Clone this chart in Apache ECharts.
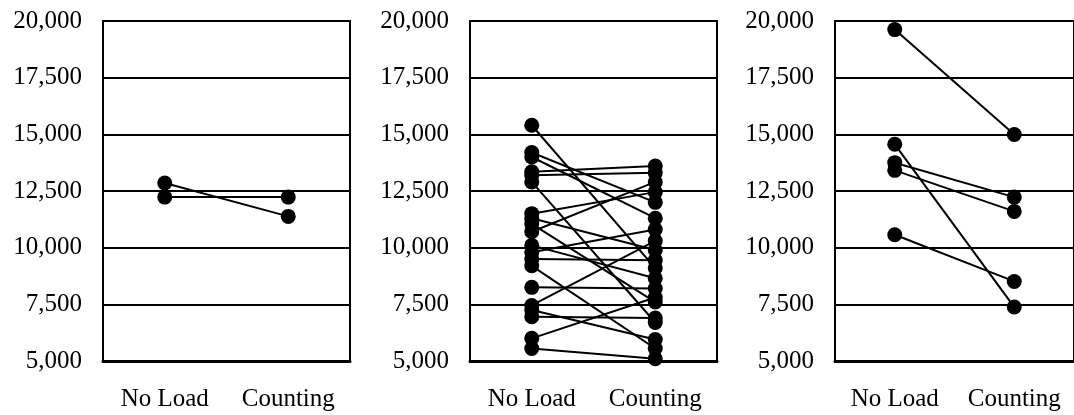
<!DOCTYPE html>
<html>
<head>
<meta charset="utf-8">
<script src="https://cdn.jsdelivr.net/npm/echarts@6/dist/echarts.min.js"></script>
<style>
  html, body { margin: 0; padding: 0; background: #fff; }
  #chart { width: 1074px; height: 415px; }
</style>
</head>
<body>
<div id="chart"></div>
<script>
var categories = ['No Load', 'Counting'];
var yTicks = [5000, 7500, 10000, 12500, 15000, 17500, 20000];

// panel 1
var noLoad1 = [12850, 12230];
var counting1 = [11380, 12230];

// panel 2 (pairs read by position)
var noLoad2 = [15400, 14200, 14000, 13350, 13200, 12900, 11500, 11300, 11050, 10700,
               10100, 9800, 9500, 9200, 8250, 7450, 7250, 6950, 6000, 5550];
var counting2 = [9100, 12000, 11300, 13600, 13300, 6700, 12450, 9900, 7600, 12900,
                 8650, 10800, 9450, 5550, 8200, 10300, 5950, 6900, 7800, 5100];

// panel 3
var noLoad3 = [19620, 14560, 13750, 13410, 10570];
var counting3 = [14990, 7380, 12230, 11600, 8510];

var panels = [
    { left: 103, noLoad: noLoad1, counting: counting1 },
    { left: 470, noLoad: noLoad2, counting: counting2 },
    { left: 835, noLoad: noLoad3, counting: counting3 }
];

var font = '"Liberation Serif", "Times New Roman", serif';
var grids = [], xAxes = [], yAxes = [], series = [];

panels.forEach(function(p, i) {
    grids.push({
        left: p.left, top: 21, width: 247, height: 340,
        show: true, borderColor: '#000', borderWidth: 2, backgroundColor: '#fff'
    });
    xAxes.push({
        type: 'category', gridIndex: i, data: categories, boundaryGap: true,
        axisLine: { lineStyle: { color: '#000', width: 3 } },
        axisTick: { show: false },
        axisLabel: { color: '#000', fontSize: 25, fontFamily: font, margin: 26, interval: 0, hideOverlap: false }
    });
    yAxes.push({
        type: 'value', gridIndex: i, min: yTicks[0], max: yTicks[yTicks.length - 1], interval: 2500,
        axisLine: { show: true, lineStyle: { color: '#000', width: 2 } },
        axisTick: { show: false },
        splitLine: { lineStyle: { color: '#000', width: 2 } },
        axisLabel: {
            color: '#000', fontSize: 25, fontFamily: font, margin: 21,
            formatter: function(v) { return v.toLocaleString('en-US'); }
        }
    });
    p.noLoad.forEach(function(v, k) {
        series.push({
            type: 'line', xAxisIndex: i, yAxisIndex: i,
            data: [v, p.counting[k]],
            symbol: 'circle', symbolSize: 15,
            lineStyle: { color: '#000', width: 2 },
            itemStyle: { color: '#000' },
            silent: true, animation: false
        });
    });
});

var myChart = echarts.init(document.getElementById('chart'));
myChart.setOption({
    animation: false,
    grid: grids,
    xAxis: xAxes,
    yAxis: yAxes,
    series: series
});
</script>
</body>
</html>
